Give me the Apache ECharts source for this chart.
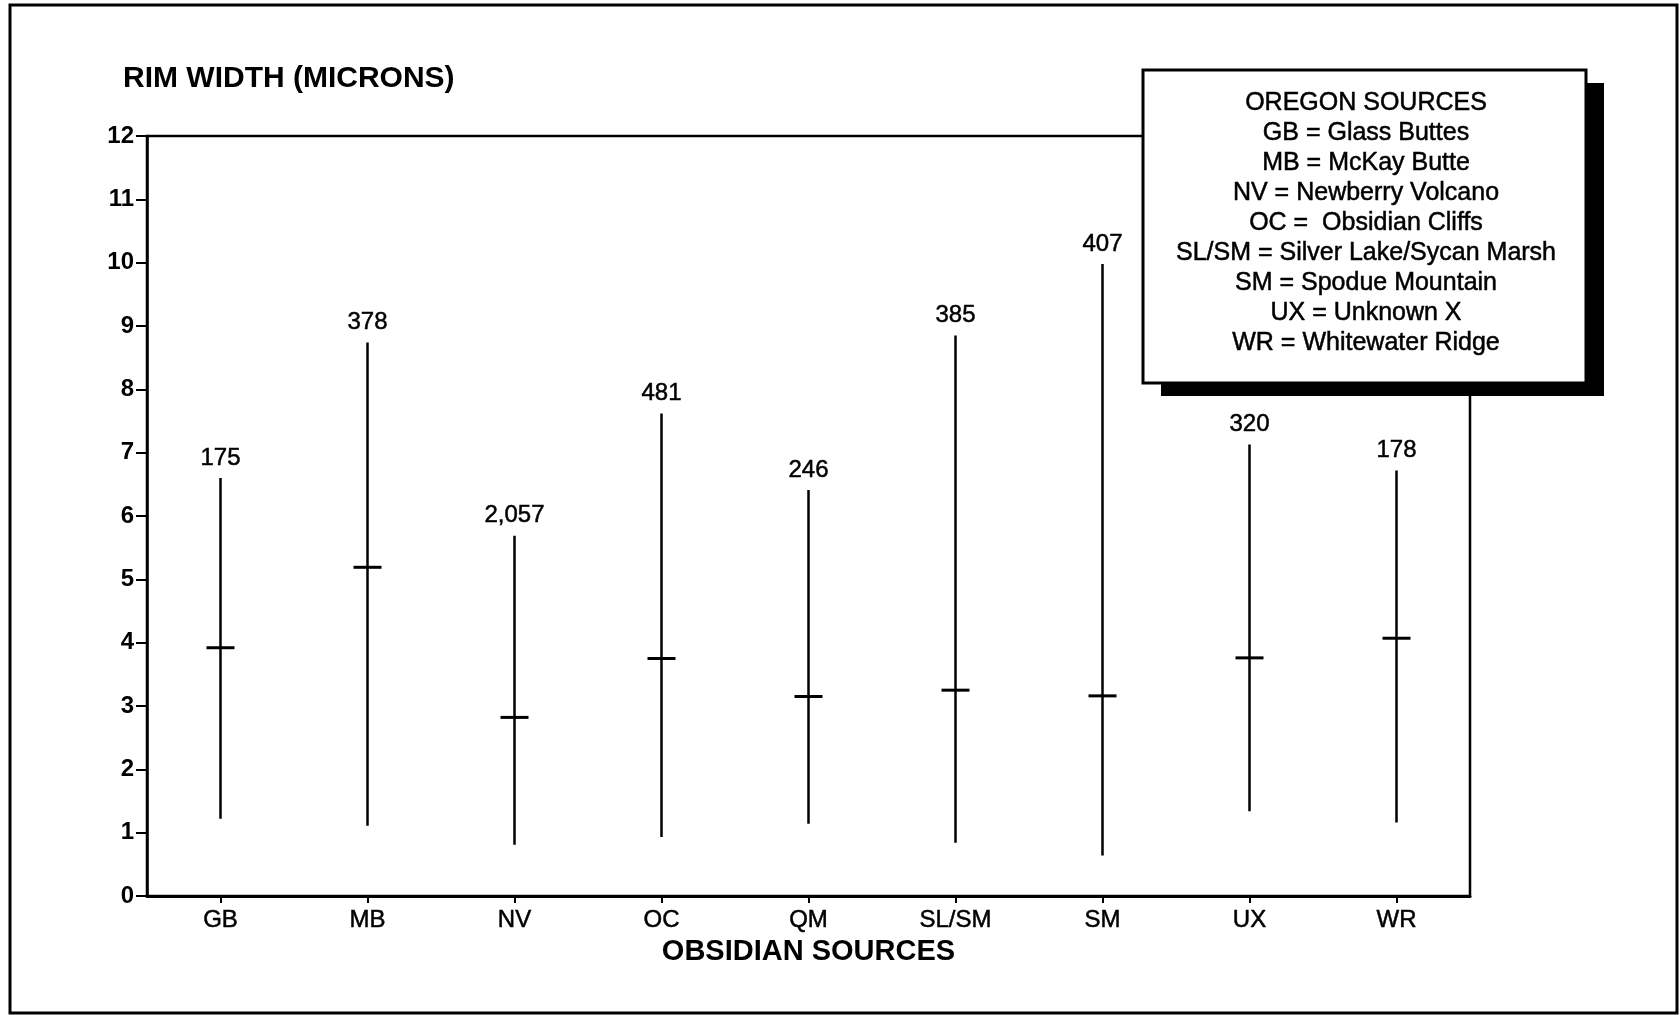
<!DOCTYPE html>
<html>
<head>
<meta charset="utf-8">
<script src="https://cdn.jsdelivr.net/npm/echarts@6/dist/echarts.min.js"></script>
<style>
html,body{margin:0;padding:0;background:#fff;}
#chart{width:1680px;height:1015px;}
</style>
</head>
<body>
<div id="chart"></div>
<script>
// ---- data ----
const categories = ['GB', 'MB', 'NV', 'OC', 'QM', 'SL/SM', 'SM', 'UX', 'WR'];
const highValues = [6.60, 8.74, 5.69, 7.62, 6.41, 8.85, 9.98, 7.13, 6.72];
const lowValues  = [1.22, 1.11, 0.81, 0.93, 1.14, 0.84, 0.64, 1.34, 1.16];
const meanValues = [3.92, 5.19, 2.82, 3.75, 3.15, 3.25, 3.16, 3.76, 4.07];
const sampleCounts = ['175', '378', '2,057', '481', '246', '385', '407', '320', '178'];
const yTickValues = [0, 1, 2, 3, 4, 5, 6, 7, 8, 9, 10, 11, 12];
const legendTitle = 'OREGON SOURCES';
const legendLines = [
  'GB = Glass Buttes',
  'MB = McKay Butte',
  'NV = Newberry Volcano',
  'OC =  Obsidian Cliffs',
  'SL/SM = Silver Lake/Sycan Marsh',
  'SM = Spodue Mountain',
  'UX = Unknown X',
  'WR = Whitewater Ridge'
];
const yTitle = 'RIM WIDTH (MICRONS)';
const xTitle = 'OBSIDIAN SOURCES';

const FONT = '"Liberation Sans", Arial, Helvetica, sans-serif';
const chart = echarts.init(document.getElementById('chart'), null, {renderer: 'canvas'});

const seriesData = categories.map((c, i) => [i, lowValues[i], highValues[i], meanValues[i]]);

// legend box graphic
const boxX = 1143, boxY = 70, boxW = 443, boxH = 313;
const legendTexts = [legendTitle].concat(legendLines).map((t, i) => ({
  type: 'text',
  x: 1366,
  y: 103 + i * 30,
  style: {
    text: t,
    font: '25px ' + FONT,
    fill: '#000',
    stroke: '#000',
    lineWidth: 0.5,
    textAlign: 'center',
    textVerticalAlign: 'middle'
  },
  z: 102
}));

const option = {
  backgroundColor: '#ffffff',
  animation: false,
  title: {
    text: yTitle,
    left: 123,
    top: 64,
    padding: 0,
    textStyle: {fontFamily: FONT, fontSize: 30, fontWeight: 'bold', color: '#000'}
  },
  grid: {
    left: 147, right: 210, top: 136, bottom: 119,
    show: true, borderColor: '#000', borderWidth: 2.5, backgroundColor: 'transparent'
  },
  xAxis: {
    type: 'category',
    data: categories,
    boundaryGap: true,
    name: xTitle,
    nameLocation: 'middle',
    nameGap: 40,
    nameTextStyle: {fontFamily: FONT, fontSize: 29, fontWeight: 'bold', color: '#000'},
    axisLine: {show: true, lineStyle: {color: '#000', width: 3}},
    axisTick: {show: true, alignWithLabel: true, length: 7, lineStyle: {color: '#000', width: 2}},
    axisLabel: {fontFamily: FONT, fontSize: 24, color: '#000', margin: 12, interval: 0,
                textBorderColor: '#000', textBorderWidth: 0.5},
    splitLine: {show: false}
  },
  yAxis: {
    type: 'value',
    min: yTickValues[0],
    max: yTickValues[yTickValues.length - 1],
    interval: 1,
    axisLine: {show: true, lineStyle: {color: '#000', width: 2.5}},
    axisTick: {show: true, length: 11, lineStyle: {color: '#000', width: 2}},
    axisLabel: {fontFamily: FONT, fontSize: 24, fontWeight: 'bold', color: '#000', margin: 13},
    splitLine: {show: false}
  },
  series: [{
    type: 'custom',
    data: seriesData,
    encode: {x: 0, y: [1, 2, 3]},
    renderItem: function (params, api) {
      const xi = api.value(0);
      const lo = api.coord([xi, api.value(1)]);
      const hi = api.coord([xi, api.value(2)]);
      const mn = api.coord([xi, api.value(3)]);
      const half = 14;
      return {
        type: 'group',
        children: [
          {type: 'line', shape: {x1: lo[0], y1: lo[1], x2: hi[0], y2: hi[1]},
           style: {stroke: '#000', lineWidth: 2.5}},
          {type: 'line', shape: {x1: mn[0] - half, y1: mn[1], x2: mn[0] + half, y2: mn[1]},
           style: {stroke: '#000', lineWidth: 3}},
          {type: 'text', x: hi[0], y: hi[1] - 20,
           style: {text: sampleCounts[params.dataIndex], font: '24px ' + FONT, fill: '#000',
                   stroke: '#000', lineWidth: 0.5,
                   textAlign: 'center', textVerticalAlign: 'middle'}}
        ]
      };
    },
    z: 5
  }],
  graphic: [
    {type: 'rect', shape: {x: 10, y: 5, width: 1667, height: 1008},
     style: {fill: 'none', stroke: '#000', lineWidth: 3}, z: 1, silent: true},
    {type: 'rect', shape: {x: boxX + 18, y: boxY + 13, width: boxW, height: boxH},
     style: {fill: '#000'}, z: 100},
    {type: 'rect', shape: {x: boxX, y: boxY, width: boxW, height: boxH},
     style: {fill: '#fff', stroke: '#000', lineWidth: 3}, z: 101}
  ].concat(legendTexts)
};

chart.setOption(option);
</script>
</body>
</html>
